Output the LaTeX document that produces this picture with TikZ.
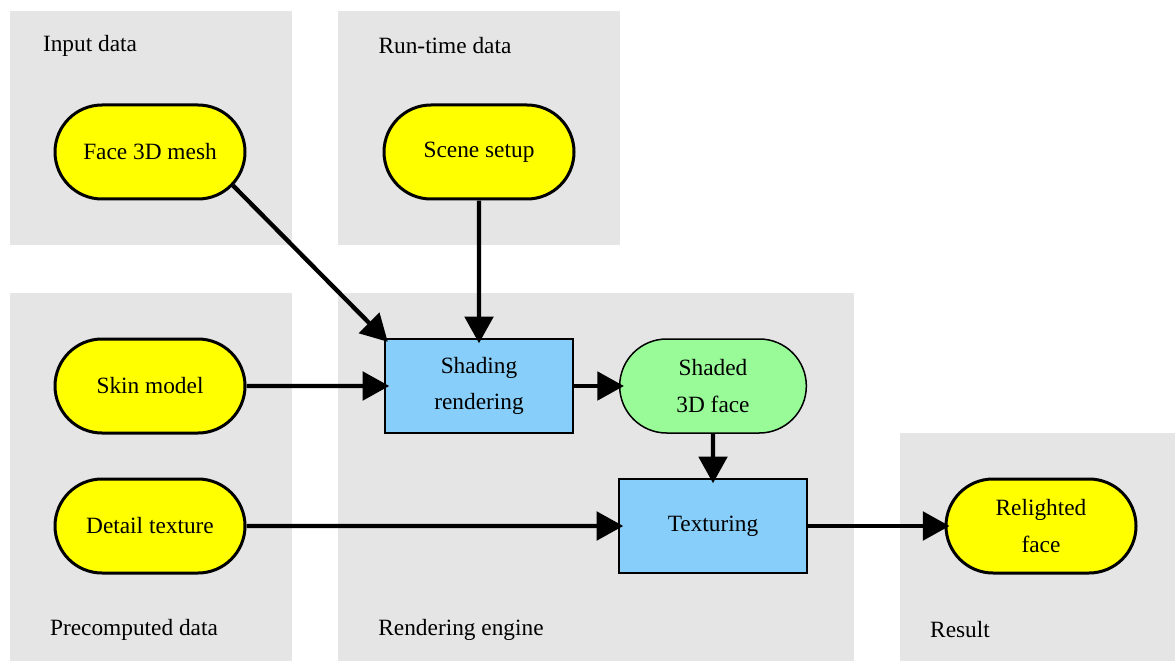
\documentclass[tikz,border=0pt]{standalone}
\usepackage{fontspec}
\setmainfont{Liberation Serif}
\newfontfamily\policeserif{Liberation Serif}
\usetikzlibrary{shapes.misc, arrows.meta}

\definecolor{fondgris}{HTML}{E5E5E5}
\definecolor{jaune}{HTML}{FFFF00}
\definecolor{bleuciel}{HTML}{87CEFA}
\definecolor{vertpale}{HTML}{98FB98}

\begin{document}
\begin{tikzpicture}[x=0.6pt, y=-0.6pt,
    every node/.style={font=\policeserif\fontsize{14}{22}\selectfont},
    donnee/.style={rounded rectangle, draw, line width=1.8pt, fill=jaune,
        minimum width=114pt, minimum height=56.4pt, inner sep=0pt, align=center},
    resultat/.style={rounded rectangle, draw, line width=0.9pt, fill=vertpale,
        minimum width=112pt, minimum height=56.4pt, inner sep=0pt, align=center},
    traitement/.style={rectangle, draw, line width=0.9pt, fill=bleuciel,
        minimum width=112.8pt, minimum height=56.4pt, inner sep=0pt, align=center},
    fleche/.style={line width=2.6pt, -{Triangle[length=16pt, width=17pt]}, shorten >=-3pt}]
        \useasboundingbox (0,0) rectangle (1175,661);

        % Les groupes
        \fill[fondgris] (10,11) rectangle (292,245);
        \fill[fondgris] (338,11) rectangle (620,245);
        \fill[fondgris] (10,293) rectangle (292,661);
        \fill[fondgris] (338,293) rectangle (854,661);
        \fill[fondgris] (900,433) rectangle (1175,661);
        \node at (90,46) {Input data};
        \node at (445,46) {Run-time data};
        \node at (134,630) {Precomputed data};
        \node at (461,630) {Rendering engine};
        \node at (960,630) {Result};

        % Les données
        \node[donnee] (mesh) at (150,152) {Face 3D mesh};
        \node[donnee] (scene) at (479,152) {Scene setup};
        \node[donnee] (skin) at (150,386) {Skin model};
        \node[donnee] (detail) at (150,526) {Detail texture};

        % Le moteur de rendu
        \node[traitement] (shading) at (479,386) {Shading\\rendering};
        \node[resultat] (shaded) at (713,386) {Shaded\\3D face};
        \node[traitement] (texturing) at (713,526) {Texturing};

        % Le résultat
        \node[donnee] (relit) at (1041,526) {Relighted\\face};

        % Les flèches
        \draw[fleche] (mesh.-22) -- (shading.north west);
        \draw[fleche] (scene) -- (shading);
        \draw[fleche] (skin) -- (shading);
        \draw[fleche] (shading) -- (shaded);
        \draw[fleche] (shaded) -- (texturing);
        \draw[fleche] (detail) -- (texturing);
        \draw[fleche] (texturing) -- (relit);
    \end{tikzpicture}
\end{document}
